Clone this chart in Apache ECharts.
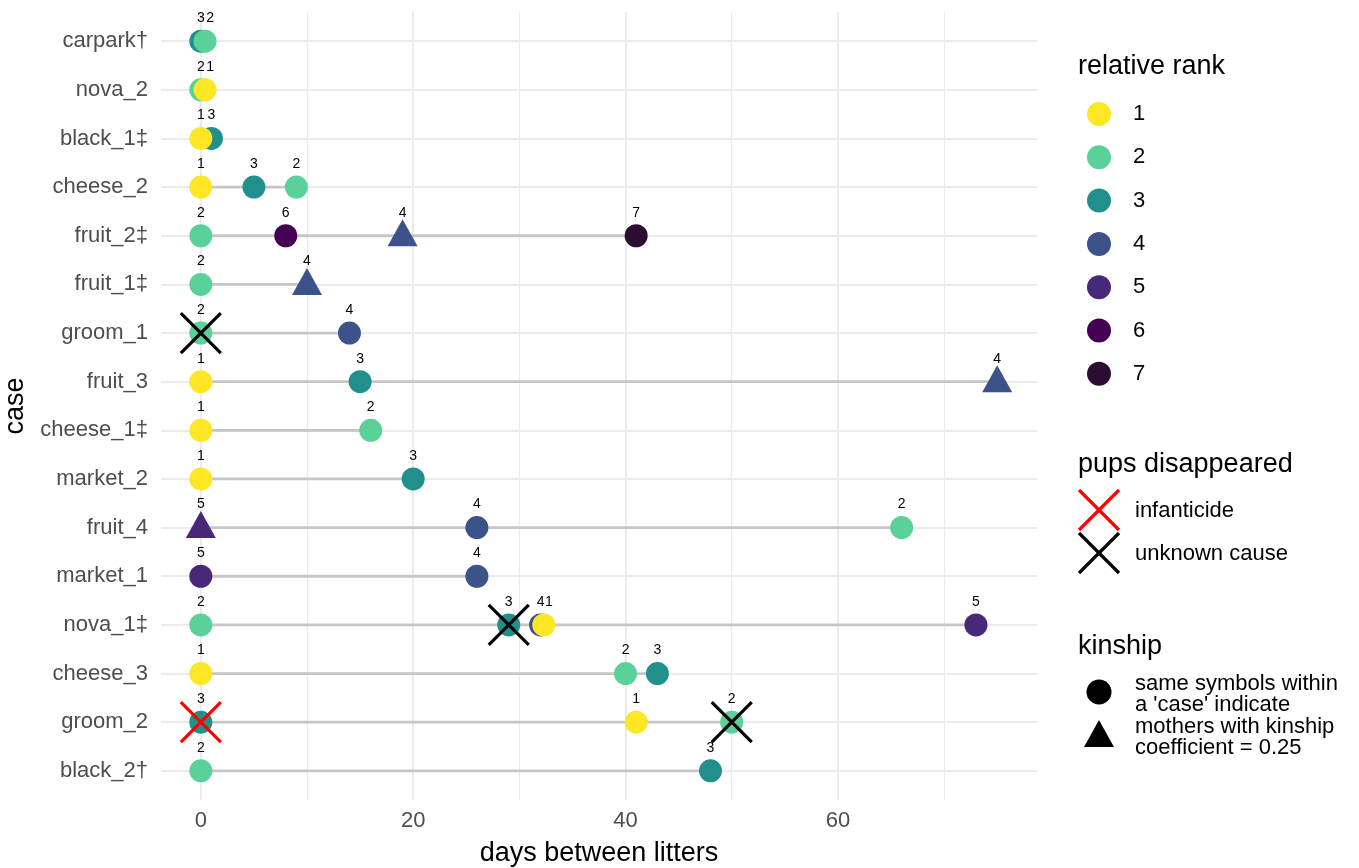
<!DOCTYPE html>
<html>
<head>
<meta charset="utf-8">
<script src="https://cdn.jsdelivr.net/npm/echarts@6/dist/echarts.min.js"></script>
<style>
  html, body { margin: 0; padding: 0; background: #fff; }
  #chart { width: 1359px; height: 868px; }
</style>
</head>
<body>
<div id="chart"></div>
<script>
// cases, top to bottom
const cases = ['carpark†', 'nova_2', 'black_1‡', 'cheese_2', 'fruit_2‡', 'fruit_1‡', 'groom_1', 'fruit_3',
  'cheese_1‡', 'market_2', 'fruit_4', 'market_1', 'nova_1‡', 'cheese_3', 'groom_2', 'black_2†']

// one entry per mother: case row, days between litters, relative rank, kinship symbol
const motherCase = [0, 0, 1, 1, 2, 2, 3, 3, 3, 4, 4, 4, 4, 5, 5, 6, 6, 7, 7, 7, 8, 8, 9, 9,
  10, 10, 10, 11, 11, 12, 12, 12, 12, 12, 13, 13, 13, 14, 14, 14, 15, 15]
const motherDays = [0, 0.4, 0, 0.4, 0, 1, 0, 5, 9, 0, 8, 19, 41, 0, 10, 0, 14, 0, 15, 75, 0, 16, 0, 20,
  0, 26, 66, 0, 26, 0, 29, 32, 32.3, 73, 0, 40, 43, 0, 41, 50, 0, 48]
const motherRank = [3, 2, 2, 1, 1, 3, 1, 3, 2, 2, 6, 4, 7, 2, 4, 2, 4, 1, 3, 4, 1, 2, 1, 3,
  5, 4, 2, 5, 4, 2, 3, 4, 1, 5, 1, 2, 3, 3, 1, 2, 2, 3]
const motherKin = ['c', 'c', 'c', 'c', 'c', 'c', 'c', 'c', 'c', 'c', 'c', 't', 'c', 'c', 't', 'c', 'c', 'c', 'c', 't', 'c', 'c', 'c', 'c',
  't', 'c', 'c', 'c', 'c', 'c', 'c', 'c', 'c', 'c', 'c', 'c', 'c', 'c', 'c', 'c', 'c', 'c']

// pups disappeared
const pupsCase = [6, 12, 14, 14]
const pupsDays = [0, 29, 0, 50]
const pupsCause = ['unknown cause', 'unknown cause', 'infanticide', 'unknown cause']

const rankNames = ['1', '2', '3', '4', '5', '6', '7']
const rankColors = ['#FDE725', '#5BD19A', '#21908C', '#3B528B', '#482878', '#440154', '#2C0C33']
const xTicks = [0, 20, 40, 60]
const xGrid = [0, 10, 20, 30, 40, 50, 60, 70]

const FONT = 'Liberation Sans, Arial, Helvetica, sans-serif'
const chart = echarts.init(document.getElementById('chart'))

// grey segment from first to last litter in each case
const segData = cases.map((c, r) => {
  const d = motherDays.filter((v, i) => motherCase[i] === r)
  return [r, Math.min(...d), Math.max(...d)]
})

function rankSeries(rank) {
  const data = []
  motherRank.forEach((rk, i) => {
    if (rk !== rank) return
    const tri = motherKin[i] === 't'
    // nudge the label a bit when two mothers sit almost on the same day
    const close = motherDays.some((d, j) => j !== i && motherCase[j] === motherCase[i] &&
      d < motherDays[i] && motherDays[i] - d < 0.6)
    data.push({
      value: [motherDays[i], motherCase[i]],
      symbol: tri ? 'triangle' : 'circle',
      symbolSize: tri ? [30, 27] : 23,
      symbolOffset: tri ? [0, -3] : [0, 0],
      label: { offset: [close ? 5 : 0, tri ? -20 : -23] }
    })
  })
  return {
    name: String(rank),
    type: 'scatter',
    symbol: 'circle',
    itemStyle: { color: rankColors[rank - 1], opacity: 1 },
    label: {
      show: true,
      position: 'inside',
      formatter: String(rank),
      color: '#000',
      fontSize: 14,
      fontFamily: FONT
    },
    emphasis: { disabled: true },
    z: 5,
    data: data
  }
}

const series = [
  {
    // background grid lines
    type: 'scatter',
    data: [],
    silent: true,
    z: 0,
    markLine: {
      silent: true,
      symbol: ['none', 'none'],
      label: { show: false },
      animation: false,
      z: 0,
      lineStyle: { color: '#ebebeb', width: 2, type: 'solid' },
      emphasis: { disabled: true },
      data: xGrid.map(v => ({ xAxis: v, lineStyle: { width: v % 20 === 0 ? 2 : 1.1 } }))
        .concat(cases.map((c, i) => ({ yAxis: i })))
    }
  },
  {
    type: 'custom',
    z: 3,
    silent: true,
    encode: { x: [1, 2], y: 0 },
    data: segData,
    renderItem(params, api) {
      const a = api.coord([api.value(1), api.value(0)])
      const b = api.coord([api.value(2), api.value(0)])
      return {
        type: 'line',
        z2: 10,
        shape: { x1: a[0], y1: a[1], x2: b[0], y2: b[1] },
        style: { stroke: '#c6c6c6', lineWidth: 2.8 }
      }
    }
  }
]
for (let r = 7; r >= 1; r--) series.push(rankSeries(r))

series.push({
  type: 'custom',
  z: 10,
  silent: true,
  encode: { x: 0, y: 1 },
  data: pupsDays.map((d, i) => [d, pupsCase[i]]),
  renderItem(params, api) {
    const c = api.coord([api.value(0), api.value(1)])
    const h = 20
    const col = pupsCause[params.dataIndex] === 'infanticide' ? '#ff0000' : '#000000'
    const st = { stroke: col, lineWidth: 3.2 }
    return {
      type: 'group',
      children: [
        { type: 'line', shape: { x1: c[0] - h, y1: c[1] - h, x2: c[0] + h, y2: c[1] + h }, style: st },
        { type: 'line', shape: { x1: c[0] - h, y1: c[1] + h, x2: c[0] + h, y2: c[1] - h }, style: st }
      ]
    }
  }
})

const legTitle = { fontSize: 27, fontFamily: FONT, fill: '#000', verticalAlign: 'middle' }
const legText = { fontSize: 22, fontFamily: FONT, fill: '#000', verticalAlign: 'middle' }

chart.setOption({
  animation: false,
  textStyle: { fontFamily: FONT },
  grid: { left: 161, right: 322, top: 12, bottom: 68, outerBoundsMode: 'none' },
  xAxis: {
    type: 'value',
    min: -3.75,
    max: 78.75,
    name: 'days between litters',
    nameLocation: 'middle',
    nameGap: 40,
    nameTextStyle: { fontSize: 27, color: '#000', fontFamily: FONT },
    axisLine: { show: false },
    axisTick: { show: false },
    splitLine: { show: false },
    axisLabel: { customValues: xTicks, fontSize: 22, color: '#4d4d4d', margin: 10, fontFamily: FONT }
  },
  yAxis: {
    type: 'value',
    inverse: true,
    min: -0.6,
    max: 15.6,
    name: 'case',
    nameLocation: 'middle',
    nameRotate: 90,
    nameGap: 128,
    nameTextStyle: { fontSize: 27, color: '#000', fontFamily: FONT },
    axisLine: { show: false },
    axisTick: { show: false },
    splitLine: { show: false },
    axisLabel: {
      customValues: cases.map((c, i) => i),
      formatter: v => cases[v] || '',
      fontSize: 22,
      color: '#4d4d4d',
      margin: 13,
      fontFamily: FONT
    }
  },
  legend: {
    data: rankNames,
    orient: 'vertical',
    left: 1082,
    top: 97,
    icon: 'circle',
    itemWidth: 48,
    itemHeight: 24,
    itemGap: 19.3,
    selectedMode: false,
    textStyle: { fontSize: 22, color: '#000', fontFamily: FONT, padding: [0, 0, 0, 5] }
  },
  graphic: [
    { type: 'text', x: 1078, y: 67, style: Object.assign({ text: 'relative rank' }, legTitle) },
    { type: 'text', x: 1078, y: 465, style: Object.assign({ text: 'pups disappeared' }, legTitle) },
    { type: 'line', shape: { x1: 1079, y1: 490, x2: 1119, y2: 530 }, style: { stroke: '#ff0000', lineWidth: 3.2 } },
    { type: 'line', shape: { x1: 1079, y1: 530, x2: 1119, y2: 490 }, style: { stroke: '#ff0000', lineWidth: 3.2 } },
    { type: 'text', x: 1135, y: 511, style: Object.assign({ text: 'infanticide' }, legText) },
    { type: 'line', shape: { x1: 1079, y1: 533, x2: 1119, y2: 573 }, style: { stroke: '#000', lineWidth: 3.2 } },
    { type: 'line', shape: { x1: 1079, y1: 573, x2: 1119, y2: 533 }, style: { stroke: '#000', lineWidth: 3.2 } },
    { type: 'text', x: 1135, y: 554, style: Object.assign({ text: 'unknown cause' }, legText) },
    { type: 'text', x: 1078, y: 647, style: Object.assign({ text: 'kinship' }, legTitle) },
    { type: 'circle', shape: { cx: 1099, cy: 692, r: 12.5 }, style: { fill: '#000' } },
    { type: 'polygon', shape: { points: [[1099, 720], [1114, 747], [1084, 747]] }, style: { fill: '#000' } },
    {
      type: 'text', x: 1135, y: 716,
      style: Object.assign({ text: "same symbols within\na 'case' indicate\nmothers with kinship\ncoefficient = 0.25", lineHeight: 21.5 }, legText)
    }
  ],
  series: series
})
</script>
</body>
</html>
